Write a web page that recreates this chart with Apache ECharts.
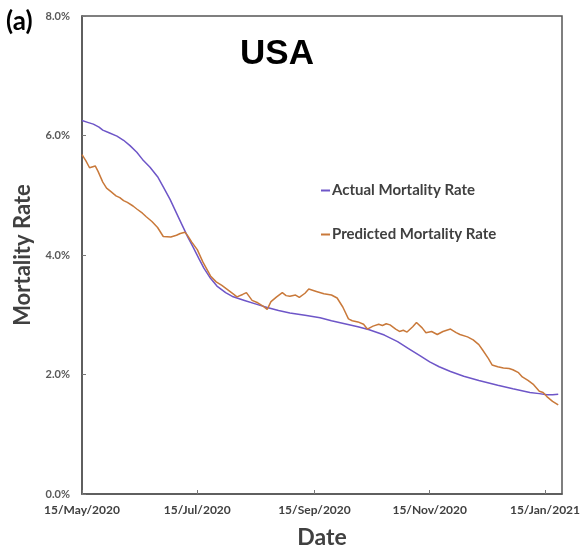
<!DOCTYPE html>
<html>
<head>
<meta charset="utf-8">
<script src="https://cdn.jsdelivr.net/npm/echarts@6/dist/echarts.min.js"></script>
<style>html,body{margin:0;padding:0;background:#fff;}#c{width:582px;height:546px;}</style>
</head>
<body>
<div id="c"></div>
<script>
// x = days since 15/May/2020
const tickDays = [0, 61, 123, 184, 245];
const tickLabels = ['15/May/2020', '15/Jul/2020', '15/Sep/2020', '15/Nov/2020', '15/Jan/2021'];
const yTicks = [0, 2, 4, 6, 8];

const actualDays = [0, 3, 6, 9, 11, 14, 18.5, 22, 25.4, 29, 32, 36, 40, 43, 46.6, 50, 53, 56, 59, 62, 64.5, 68, 71.4, 76, 80, 86, 93, 98, 104, 110, 118, 126, 132, 139, 146, 152, 160, 167, 173, 179, 184, 189, 195, 202, 210, 220, 228, 237, 242, 246, 249, 252];
const actualVals = [6.25, 6.22, 6.19, 6.14, 6.09, 6.05, 5.99, 5.92, 5.83, 5.72, 5.60, 5.47, 5.31, 5.14, 4.93, 4.70, 4.50, 4.30, 4.12, 3.93, 3.78, 3.61, 3.48, 3.37, 3.30, 3.24, 3.17, 3.12, 3.07, 3.03, 2.99, 2.95, 2.90, 2.85, 2.80, 2.75, 2.66, 2.55, 2.43, 2.31, 2.21, 2.13, 2.05, 1.97, 1.90, 1.82, 1.76, 1.70, 1.68, 1.66, 1.66, 1.67];

const predDays = [0, 2, 4, 7, 8.5, 11, 13, 15, 18, 20, 22, 24, 27, 29, 32, 34, 37, 40, 43, 47, 50, 52, 54.5, 56, 58, 61, 64, 68, 71, 74, 77, 80, 82, 85, 87, 90, 93, 96, 98, 100, 103, 106, 108, 110, 113, 115, 118, 120, 122, 124, 128, 132, 135, 138, 141, 143, 146, 149, 151, 154, 157, 159, 161, 163, 166, 168, 170, 172, 175, 177, 180, 182, 185, 188, 191, 195, 198, 200, 204, 207, 210, 212, 215, 217, 220, 223, 226, 228, 231, 233, 236, 239, 242, 244, 246, 249, 252];
const predVals = [5.68, 5.58, 5.46, 5.49, 5.40, 5.22, 5.12, 5.07, 4.99, 4.96, 4.91, 4.88, 4.82, 4.77, 4.70, 4.64, 4.56, 4.46, 4.31, 4.30, 4.33, 4.36, 4.38, 4.32, 4.22, 4.09, 3.88, 3.65, 3.55, 3.49, 3.42, 3.35, 3.30, 3.34, 3.37, 3.24, 3.20, 3.14, 3.09, 3.22, 3.30, 3.37, 3.32, 3.31, 3.33, 3.29, 3.36, 3.43, 3.41, 3.39, 3.35, 3.33, 3.28, 3.13, 2.93, 2.90, 2.88, 2.84, 2.76, 2.81, 2.84, 2.82, 2.85, 2.83, 2.76, 2.72, 2.74, 2.71, 2.80, 2.87, 2.78, 2.70, 2.72, 2.67, 2.72, 2.76, 2.70, 2.67, 2.63, 2.58, 2.50, 2.41, 2.27, 2.16, 2.13, 2.11, 2.10, 2.08, 2.03, 1.96, 1.90, 1.83, 1.72, 1.70, 1.63, 1.55, 1.49];

const pair = (d, v) => d.map((x, i) => [x, v[i]]);
const FONT = 'Lato';

const chart = echarts.init(document.getElementById('c'), null, {renderer: 'canvas', width: 582, height: 546});
chart.setOption({
  animation: false,
  backgroundColor: '#fff',
  title: [
    {text: 'USA', left: 272, top: 32, textAlign: 'center',
     textStyle: {fontFamily: 'Liberation Sans', fontWeight: 'bold', fontSize: 35, color: '#000'}},
    {text: '(a)', left: 1, top: 4,
     textStyle: {fontFamily: FONT, fontWeight: 'bold', fontSize: 26, color: '#000'}}
  ],
  legend: {
    orient: 'vertical', left: 316, top: 178, itemGap: 29,
    itemWidth: 9, itemHeight: 2, icon: 'rect',
    textStyle: {fontFamily: FONT, fontWeight: 'bold', fontSize: 15, color: '#404040', padding: [0, 0, 0, -3]},
    data: ['Actual Mortality Rate', 'Predicted Mortality Rate']
  },
  grid: {left: 82, right: 20, top: 16, bottom: 52, show: true, borderColor: '#555', borderWidth: 1.5,
         containLabel: false, outerBoundsMode: 'none'},
  xAxis: {
    type: 'value', min: 0, max: 254,
    name: 'Date', nameLocation: 'middle', nameGap: 32,
    nameTextStyle: {fontFamily: FONT, fontWeight: 'bold', fontSize: 23, color: '#404040'},
    axisLine: {lineStyle: {color: '#555', width: 1.5}},
    axisTick: {inside: true, length: 4, customValues: tickDays, lineStyle: {color: '#777'}},
    axisLabel: {customValues: tickDays, fontFamily: FONT, fontWeight: 'bold', fontSize: 12, color: '#404040', margin: 10,
      formatter: v => tickLabels[tickDays.indexOf(v)]},
    splitLine: {show: false}
  },
  yAxis: {
    type: 'value', min: 0, max: 8, interval: 2,
    name: 'Mortality Rate', nameLocation: 'middle', nameGap: 48, nameRotate: 90,
    nameTextStyle: {fontFamily: FONT, fontWeight: 'bold', fontSize: 22, color: '#404040'},
    axisLine: {show: true, lineStyle: {color: '#555', width: 1.5}},
    axisTick: {show: true, inside: true, length: 4, lineStyle: {color: '#777'}},
    axisLabel: {fontFamily: FONT, fontWeight: 'bold', fontSize: 11, color: '#595959', margin: 12,
      formatter: v => v.toFixed(1) + '%'},
    splitLine: {show: false}
  },
  series: [
    {name: 'Actual Mortality Rate', type: 'line', data: pair(actualDays, actualVals), showSymbol: false,
     lineStyle: {color: '#6E56C8', width: 1.5}, itemStyle: {color: '#6E56C8'}},
    {name: 'Predicted Mortality Rate', type: 'line', data: pair(predDays, predVals), showSymbol: false,
     lineStyle: {color: '#C9793A', width: 1.5}, itemStyle: {color: '#C9793A'}}
  ]
});
</script>
</body>
</html>
